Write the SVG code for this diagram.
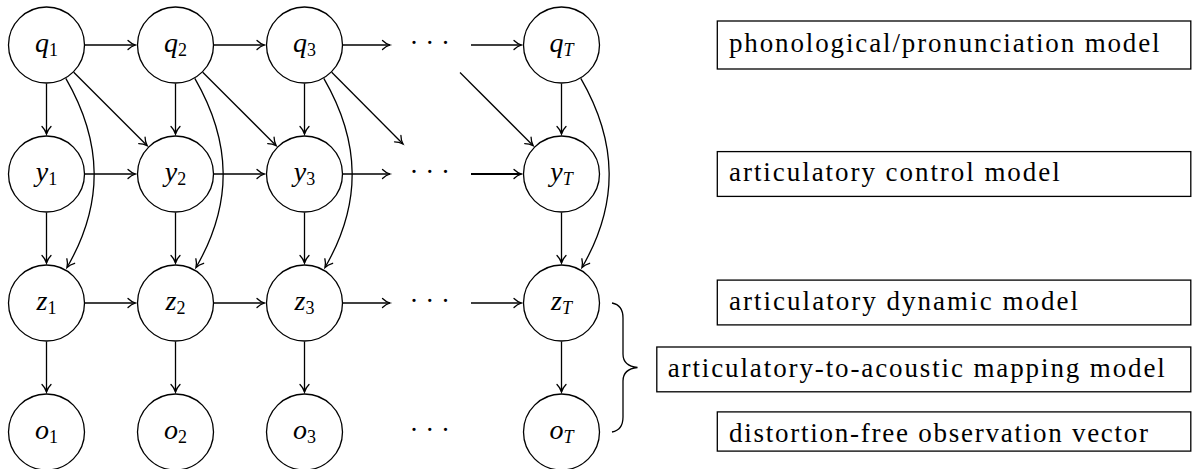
<svg xmlns="http://www.w3.org/2000/svg" width="1192" height="469" viewBox="0 0 1192 469" font-family="'Liberation Serif', 'Tinos', 'Noto Serif', 'FreeSerif', 'Nimbus Roman', 'DejaVu Serif', serif">
<style>
.nd{fill:#fff;stroke:#000;stroke-width:1.3}
.lbl{font-family:'Liberation Serif','Tinos','Noto Serif','FreeSerif','Nimbus Roman','DejaVu Serif',serif;font-size:28px;font-style:italic;text-anchor:middle;fill:#000}
.sub{font-style:normal;font-size:18px}
.subi{font-style:italic;font-size:18px}
.dots{font-family:'Liberation Serif','Tinos','Noto Serif','DejaVu Serif',serif;font-size:27px;text-anchor:middle;fill:#000}
.e{fill:none;stroke:#000;stroke-width:1.3;marker-end:url(#ah)}
.box{fill:#fff;stroke:#000;stroke-width:1.3}
.bt{font-family:'Liberation Serif','Tinos','Noto Serif','FreeSerif','Nimbus Roman','DejaVu Serif',serif;font-size:27px;fill:#000}
.br{fill:none;stroke:#000;stroke-width:1.3}
</style>
<defs>
<marker id="ah" markerUnits="userSpaceOnUse" markerWidth="20" markerHeight="20" viewBox="-10 -10 20 20" refX="0" refY="0" orient="auto" overflow="visible">
<path d="M-7.5,-4.5 C-5,-2 -2,-0.6 0,0 C-2,0.6 -5,2 -7.5,4.5" fill="none" stroke="#000" stroke-width="1.3" stroke-linecap="round"/>
</marker>
</defs>
<rect width="1192" height="469" fill="#fff"/>

<g id="connectors">
<path class="e" d="M85,45 L135.5,45"/>
<path class="e" d="M214,45 L264.5,45"/>
<path class="e" d="M343,45 L390,45"/>
<path class="e" d="M471,45 L521.5,45"/>
<path class="e" d="M85,174 L135.5,174"/>
<path class="e" d="M214,174 L264.5,174"/>
<path class="e" d="M343,174 L390,174"/>
<path class="e" d="M471,174 L521.5,174" style="stroke-width:2"/>
<path class="e" d="M85,303 L135.5,303"/>
<path class="e" d="M214,303 L264.5,303"/>
<path class="e" d="M343,303 L390,303"/>
<path class="e" d="M471,303 L521.5,303"/>
<path class="e" d="M46.5,83.5 L46.5,134"/>
<path class="e" d="M175.5,83.5 L175.5,134"/>
<path class="e" d="M304.5,83.5 L304.5,134"/>
<path class="e" d="M561.5,83.5 L561.5,134"/>
<path class="e" d="M46.5,212.5 L46.5,263"/>
<path class="e" d="M175.5,212.5 L175.5,263"/>
<path class="e" d="M304.5,212.5 L304.5,263"/>
<path class="e" d="M561.5,212.5 L561.5,263"/>
<path class="e" d="M46.5,341.5 L46.5,392"/>
<path class="e" d="M175.5,341.5 L175.5,392"/>
<path class="e" d="M304.5,341.5 L304.5,392"/>
<path class="e" d="M561.5,341.5 L561.5,392"/>
<path class="e" d="M73.7,72.2 L147.2,145.7"/>
<path class="e" d="M202.7,72.2 L276.2,145.7"/>
<path class="e" d="M331.7,72.2 L403,144"/>
<path class="e" d="M460,72.5 L533.2,145.7"/>
<path class="e" d="M65.8,78.3 C102.8,142.3 104,203.5 67,267.5"/>
<path class="e" d="M194.8,78.3 C231.8,142.3 233,203.5 196,267.5"/>
<path class="e" d="M323.8,78.3 C360.8,142.3 362,203.5 325,267.5"/>
<path class="e" d="M580.8,78.3 C617.8,142.3 619,203.5 582,267.5"/>
</g>

<g id="q1"><circle class="nd" cx="46.5" cy="45" r="38"/><text class="lbl" x="46.5" y="52">q<tspan class="sub" dy="4">1</tspan></text></g>
<g id="q2"><circle class="nd" cx="175.5" cy="45" r="38"/><text class="lbl" x="175.5" y="52">q<tspan class="sub" dy="4">2</tspan></text></g>
<g id="q3"><circle class="nd" cx="304.5" cy="45" r="38"/><text class="lbl" x="304.5" y="52">q<tspan class="sub" dy="4">3</tspan></text></g>
<g id="qdots"><text class="dots" x="429.7" y="52">· · ·</text></g>
<g id="qT"><circle class="nd" cx="561.5" cy="45" r="38"/><text class="lbl" x="561.5" y="52">q<tspan class="subi" dy="4">T</tspan></text></g>

<g id="y1"><circle class="nd" cx="46.5" cy="174" r="38"/><text class="lbl" x="46.5" y="181">y<tspan class="sub" dy="4">1</tspan></text></g>
<g id="y2"><circle class="nd" cx="175.5" cy="174" r="38"/><text class="lbl" x="175.5" y="181">y<tspan class="sub" dy="4">2</tspan></text></g>
<g id="y3"><circle class="nd" cx="304.5" cy="174" r="38"/><text class="lbl" x="304.5" y="181">y<tspan class="sub" dy="4">3</tspan></text></g>
<g id="ydots"><text class="dots" x="429.7" y="181">· · ·</text></g>
<g id="yT"><circle class="nd" cx="561.5" cy="174" r="38"/><text class="lbl" x="561.5" y="181">y<tspan class="subi" dy="4">T</tspan></text></g>

<g id="z1"><circle class="nd" cx="46.5" cy="303" r="38"/><text class="lbl" x="46.5" y="310">z<tspan class="sub" dy="4">1</tspan></text></g>
<g id="z2"><circle class="nd" cx="175.5" cy="303" r="38"/><text class="lbl" x="175.5" y="310">z<tspan class="sub" dy="4">2</tspan></text></g>
<g id="z3"><circle class="nd" cx="304.5" cy="303" r="38"/><text class="lbl" x="304.5" y="310">z<tspan class="sub" dy="4">3</tspan></text></g>
<g id="zdots"><text class="dots" x="429.7" y="310">· · ·</text></g>
<g id="zT"><circle class="nd" cx="561.5" cy="303" r="38"/><text class="lbl" x="561.5" y="310">z<tspan class="subi" dy="4">T</tspan></text></g>

<g id="o1"><circle class="nd" cx="46.5" cy="432" r="38"/><text class="lbl" x="46.5" y="439">o<tspan class="sub" dy="4">1</tspan></text></g>
<g id="o2"><circle class="nd" cx="175.5" cy="432" r="38"/><text class="lbl" x="175.5" y="439">o<tspan class="sub" dy="4">2</tspan></text></g>
<g id="o3"><circle class="nd" cx="304.5" cy="432" r="38"/><text class="lbl" x="304.5" y="439">o<tspan class="sub" dy="4">3</tspan></text></g>
<g id="odots"><text class="dots" x="429.7" y="439">· · ·</text></g>
<g id="oT"><circle class="nd" cx="561.5" cy="432" r="38"/><text class="lbl" x="561.5" y="439">o<tspan class="subi" dy="4">T</tspan></text></g>

<g id="brace"><path class="br" d="M612,303 Q623,305 623,318 L623,354 Q623,366 637.5,367.5 Q623,369 623,381 L623,417 Q623,430 612,432"/></g>

<g id="box-phonological"><rect class="box" x="717.3" y="21" width="473.5" height="48"/><text class="bt" x="729" y="52.2" textLength="430.6">phonological/pronunciation model</text></g>
<g id="box-control"><rect class="box" x="717.3" y="151.6" width="473.5" height="44.8"/><text class="bt" x="729" y="181.2" textLength="330.7">articulatory control model</text></g>
<g id="box-dynamic"><rect class="box" x="717.3" y="280.1" width="473.5" height="44.8"/><text class="bt" x="729" y="309.7" textLength="349">articulatory dynamic model</text></g>
<g id="box-mapping"><rect class="box" x="656.8" y="347" width="534" height="44.8"/><text class="bt" x="667.7" y="376.6" textLength="497.1">articulatory-to-acoustic mapping model</text></g>
<g id="box-observation"><rect class="box" x="717.3" y="411.9" width="473.5" height="39.2"/><text class="bt" x="729" y="441.5" textLength="419.1">distortion-free observation vector</text></g>
</svg>
